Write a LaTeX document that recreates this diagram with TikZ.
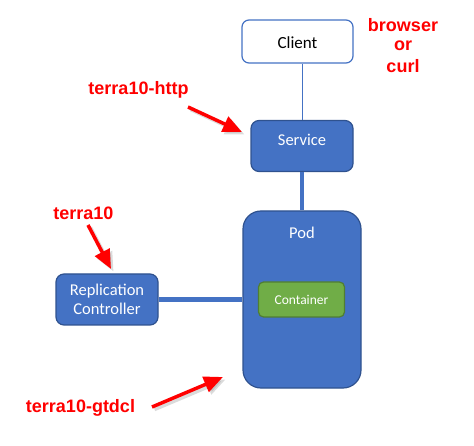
\documentclass[tikz,border=0pt]{standalone}
\usepackage{fontspec}
\setmainfont{Carlito}
\newfontfamily\redfont{Liberation Sans}
\usetikzlibrary{arrows.meta}
\definecolor{boxblue}{HTML}{4472C4}
\definecolor{boxedge}{HTML}{2F528F}
\definecolor{boxgreen}{HTML}{70AD47}
\definecolor{greenedge}{HTML}{507E32}
\tikzset{
  bluebox/.style={draw=boxedge, fill=boxblue, line width=1.2pt, text=white, font=\fontsize{16.5}{19}\selectfont, align=center, inner sep=0pt},
  whitebox/.style={draw=boxblue, fill=white, line width=1.2pt, text=black, font=\fontsize{17}{20}\selectfont, inner sep=0pt},
  greenbox/.style={draw=greenedge, fill=boxgreen, line width=1.2pt, text=white, font=\fontsize{13.5}{16}\selectfont, inner sep=0pt},
  redlabel/.style={text=red, font=\redfont\bfseries\fontsize{18}{22}\selectfont, align=center, inner sep=0pt},
  redarrow/.style={draw=red, line width=3.5pt, -{Triangle[length=19pt,width=16pt]}},
  arrowshadow/.style={draw=black!40, opacity=0.35, line width=3.5pt, -{Triangle[length=19pt,width=16pt]}, transform canvas={shift={(2.5pt,-2.5pt)}}},
  thinlink/.style={draw=boxblue, line width=1pt},
  thicklink/.style={draw=boxblue, line width=4.5pt}
}
\begin{document}
\begin{tikzpicture}[x=1pt,y=-1pt]
\useasboundingbox (0,0) rectangle (474,446);
\node[whitebox, minimum width=111pt, minimum height=43pt, rounded corners=7pt] (client) at (297.5,41.5) {};
\node[font=\fontsize{17}{20}\selectfont] (clienttext) at (297.5,43) {Client};
\node[bluebox, minimum width=102pt, minimum height=51pt, rounded corners=8pt] (service) at (302,146) {};
\node[text=white, font=\fontsize{16.5}{19}\selectfont] (servicetext) at (302,140) {Service};
\node[bluebox, minimum width=118pt, minimum height=177pt, rounded corners=18pt] (pod) at (302,299.5) {};
\node[text=white, font=\fontsize{16.5}{19}\selectfont] (podtext) at (302,233) {Pod};
\node[greenbox, minimum width=86pt, minimum height=35pt, rounded corners=5pt] (container) at (301.5,299.5) {Container};
\node[bluebox, minimum width=102pt, minimum height=51pt, rounded corners=8pt] (rc) at (107,299.5) {Replication\\Controller};
% connectors
\draw[thinlink] (client.south -| 302,0) -- (service.north -| 302,0);
\draw[thicklink] (service.south -| 302,0) -- (pod.north -| 302,0);
\draw[thicklink] (rc.east) -- (pod.west |- rc.east);
% red labels
\node[redlabel] (browser) at (403,25) {browser};
\node[redlabel] (or) at (403,45.5) {or};
\node[redlabel] (curl) at (403,66) {curl};
\node[redlabel] (http) at (138.5,90) {terra10-http};
\node[redlabel] (terra) at (83.5,213) {terra10};
\node[redlabel] (gtdcl) at (80.5,408) {terra10-gtdcl};
% arrow ends
\coordinate (a1s) at (188,107); \coordinate (a1e) at (242,132);
\coordinate (a2s) at (88,225);  \coordinate (a2e) at (111,269);
\coordinate (a3s) at (152,407); \coordinate (a3e) at (223,377);
\draw[arrowshadow] (a1s) -- (a1e);
\draw[arrowshadow] (a2s) -- (a2e);
\draw[arrowshadow] (a3s) -- (a3e);
\draw[redarrow] (a1s) -- (a1e);
\draw[redarrow] (a2s) -- (a2e);
\draw[redarrow] (a3s) -- (a3e);
\end{tikzpicture}
\end{document}
